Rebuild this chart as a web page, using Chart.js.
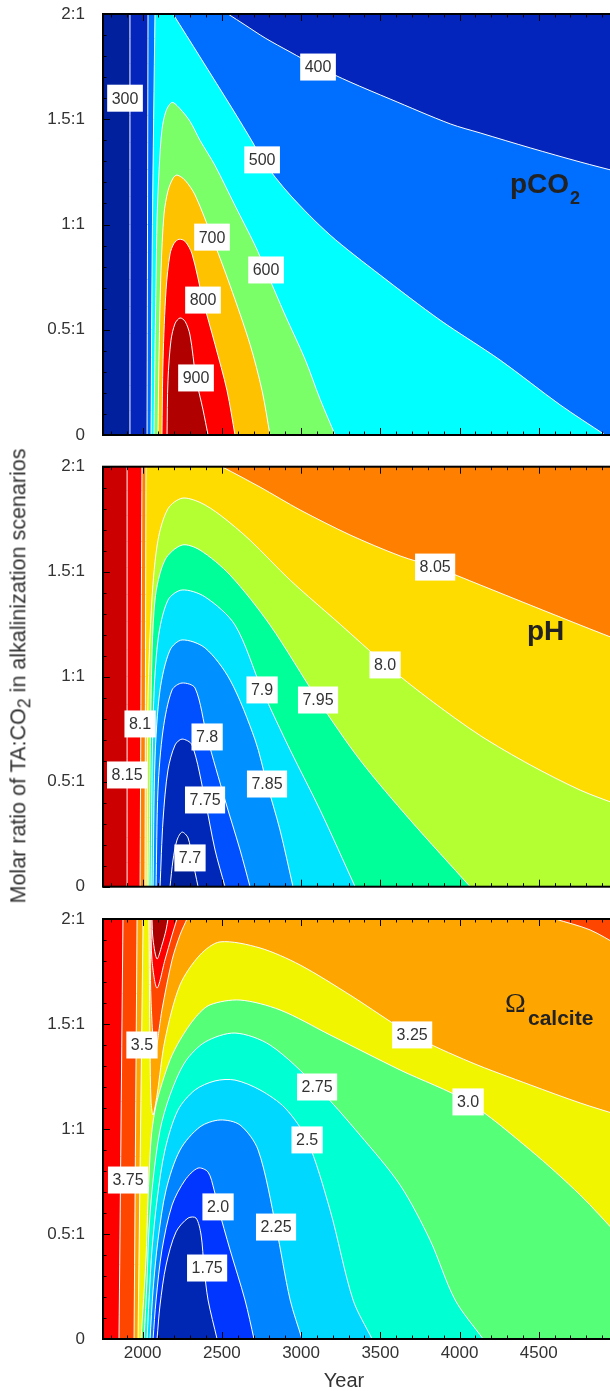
<!DOCTYPE html>
<html lang="en">
<head>
<meta charset="UTF-8">
<title>Alkalinization scenarios: pCO2, pH, Omega calcite</title>
<script src="https://cdn.jsdelivr.net/npm/chart.js"></script>
<style>
  html, body { margin: 0; padding: 0; background: #fff; overflow: hidden; }
  body { width: 610px; height: 1391px; position: relative; font-family: "Liberation Sans", Arial, Helvetica, sans-serif; color: #333; }
  canvas { position: absolute; left: 0; }
  #p1 { top: 0; }
  #p2 { top: 452px; }
  #p3 { top: 905px; }
  #ylab { position: absolute; left: 21px; top: 676px; transform: translate(-50%, -50%) rotate(-90deg); white-space: nowrap; font-size: 21.5px; }
  #xlab { position: absolute; left: 344px; top: 1369px; transform: translateX(-50%); font-size: 20px; }
</style>
</head>
<body>
<canvas id="p1" width="620" height="450"></canvas>
<canvas id="p2" width="620" height="450"></canvas>
<canvas id="p3" width="620" height="486"></canvas>
<div id="ylab">Molar ratio of TA:CO<sub>2</sub> in alkalinization scenarios</div>
<div id="xlab">Year</div>

<script>
const FONT = '"Liberation Sans", Arial, Helvetica, sans-serif';
const xMin = 1750, xMax = 5000, yMin = 0, yMax = 2;
const xTicks = [2000, 2500, 3000, 3500, 4000, 4500];
const yTicks = [0, 0.5, 1, 1.5, 2];
const yTickLabels = ['0', '0.5:1', '1:1', '1.5:1', '2:1'];

// ---- pCO2 (ppm): regions where pCO2 is above each level, [year, ratio]
const pco2Levels = [300, 400, 500, 600, 700, 800, 900];
const pco2Colors = ['#00209e', '#0325bc', '#006eff', '#00ffff', '#7aff68', '#ffc200', '#ff0000', '#b00000'];
const co2Above300 = [[1920,0],[1920,2],[5000,2],[5000,0]];
const co2Above400 = [[2028,0],[2034,2],[2539,2],[2646,1.948],[2773,1.886],[2930,1.82],[3107,1.748],[3309,1.677],[3562,1.596],[3941,1.478],[4130,1.435],[4446,1.364],[4761,1.297],[5000,1.25],[5000,0]];
const co2Above500 = [[2053,0],[2062,1],[2078,2],[2192,2],[2362,1.796],[2571,1.544],[2697,1.387],[2754,1.307],[2931,1.14],[3183,0.95],[3499,0.76],[3877,0.546],[4256,0.356],[4635,0.143],[4919,0]];
const co2Above600 = [[2072,0],[2078,0.40],[2085,0.74],[2091,1.02],[2104,1.26],[2122,1.45],[2148,1.54],[2186,1.58],[2236,1.55],[2299,1.49],[2362,1.40],[2457,1.28],[2583,1.09],[2710,0.90],[2779,0.78],[2899,0.57],[3025,0.36],[3120,0.17],[3215,0]];
const co2Above700 = [[2097,0],[2104,0.40],[2116,0.78],[2135,1.05],[2160,1.16],[2192,1.22],[2217,1.235],[2268,1.21],[2331,1.14],[2438,0.94],[2552,0.71],[2678,0.43],[2754,0.21],[2804,0]];
const co2Above800 = [[2122,0],[2129,0.36],[2148,0.69],[2173,0.86],[2198,0.91],[2230,0.93],[2268,0.92],[2312,0.86],[2381,0.64],[2457,0.43],[2533,0.21],[2583,0]];
const co2Above900 = [[2154,0],[2160,0.26],[2179,0.45],[2205,0.53],[2236,0.556],[2268,0.54],[2299,0.475],[2337,0.27],[2381,0.12],[2413,0]];
const pco2Labels = [[1889,1.60,'300'],[3107,1.748,'400'],[2754,1.307,'500'],[2779,0.784,'600'],[2438,0.94,'700'],[2381,0.641,'800'],[2337,0.271,'900']];

// ---- pH: regions where pH is below each level (highest level first)
const phLevels = [8.15, 8.1, 8.05, 8.0, 7.95, 7.9, 7.85, 7.8, 7.75, 7.7];
const phColors = ['#cc0000', '#ff0000', '#ff8000', '#ffdc00', '#b4ff32', '#00ff99', '#00e4ff', '#0090ff', '#0050ff', '#0028b8', '#001e98'];
const phBelow815 = [[1902,0],[1902,2],[5000,2],[5000,0]];
const phBelow81 = [[1984,0],[1996,2],[5000,2],[5000,0]];
const phBelow805 = [[2015,0],[2021,2],[2501,2],[2741,1.903],[2994,1.794],[3309,1.675],[3625,1.575],[3846,1.522],[4130,1.437],[4446,1.341],[4761,1.246],[5000,1.175],[5000,0]];
const phBelow80 = [[2028,0],[2034,0.89],[2059,1.37],[2097,1.65],[2160,1.80],[2249,1.85],[2362,1.83],[2489,1.77],[2678,1.65],[2931,1.46],[3246,1.25],[3530,1.06],[3814,0.89],[4130,0.72],[4446,0.58],[4761,0.46],[5000,0.39],[5000,0]];
const phBelow795 = [[2040,0],[2053,0.89],[2078,1.365],[2141,1.556],[2249,1.627],[2362,1.603],[2552,1.484],[2804,1.246],[3107,0.889],[3372,0.603],[3688,0.318],[4067,0]];
const phBelow79 = [[2053,0],[2066,0.794],[2097,1.175],[2160,1.365],[2249,1.413],[2394,1.38],[2583,1.246],[2754,0.937],[2931,0.651],[3120,0.365],[3341,0]];
const phBelow785 = [[2066,0],[2078,0.603],[2110,0.937],[2173,1.127],[2249,1.175],[2394,1.137],[2552,0.984],[2710,0.699],[2785,0.489],[2867,0.27],[2949,0]];
const phBelow78 = [[2085,0],[2097,0.46],[2129,0.746],[2186,0.937],[2249,0.97],[2331,0.946],[2407,0.713],[2520,0.413],[2615,0.175],[2678,0]];
const phBelow775 = [[2110,0],[2129,0.318],[2160,0.556],[2205,0.675],[2249,0.703],[2312,0.675],[2394,0.413],[2457,0.175],[2520,0]];
const phBelow77 = [[2173,0],[2192,0.127],[2217,0.222],[2249,0.26],[2287,0.232],[2312,0.137],[2350,0]];
const phLabels = [[1902,0.532,'8.15'],[1984,0.775,'8.1'],[3846,1.522,'8.05'],[3530,1.056,'8.0'],[3107,0.889,'7.95'],[2754,0.937,'7.9'],[2785,0.489,'7.85'],[2407,0.713,'7.8'],[2394,0.413,'7.75'],[2299,0.137,'7.7']];

// ---- Omega calcite: regions where Omega is below each level (highest level first)
const omLevels = [4.0, 3.75, 3.5, 3.25, 3.0, 2.75, 2.5, 2.25, 2.0, 1.75];
const omColors = ['#aa0000', '#ff0000', '#ff4600', '#ffa500', '#f2f500', '#55ff77', '#00ffd2', '#00d8ff', '#0084ff', '#0036ff', '#0026b4'];
const omBelow40 = [[1750,0],[1750,2],[2059,2],[2066,1.90],[2091,1.81],[2122,1.876],[2148,1.948],[2160,2],[5000,2],[5000,0]];
const omBelow375 = [[1851,0],[1876,2],[2053,2],[2059,1.805],[2091,1.671],[2141,1.805],[2186,1.924],[2217,2],[5000,2],[5000,0]];
const omBelow35 = [[1946,0],[1965,2],[2047,2],[2053,1.614],[2078,1.362],[2122,1.567],[2186,1.805],[2236,1.924],[2280,2],[4604,2],[4824,1.948],[5000,1.876],[5000,0]];
const omBelow325 = [[1971,0],[2003,2],[2040,2],[2047,1.376],[2053,1.133],[2066,1.067],[2091,1.162],[2141,1.424],[2236,1.686],[2362,1.829],[2489,1.891],[2741,1.862],[2994,1.781],[3309,1.638],[3701,1.448],[4067,1.319],[4446,1.21],[4761,1.124],[5000,1.067],[5000,0]];
const omBelow30 = [[1990,0],[2021,0.376],[2034,0.662],[2053,0.948],[2078,1.09],[2110,1.186],[2173,1.329],[2236,1.424],[2331,1.529],[2425,1.591],[2615,1.614],[2867,1.567],[3183,1.448],[3625,1.281],[4054,1.129],[4446,0.90],[4761,0.686],[5000,0.495],[5000,0]];
const omBelow275 = [[2009,0],[2028,0.281],[2040,0.519],[2066,0.757],[2110,0.995],[2173,1.162],[2268,1.319],[2394,1.414],[2583,1.457],[2804,1.40],[3101,1.20],[3372,0.971],[3625,0.733],[3814,0.471],[3972,0.186],[4149,0]];
const omBelow25 = [[2028,0],[2047,0.281],[2059,0.424],[2091,0.662],[2141,0.90],[2223,1.09],[2331,1.186],[2457,1.229],[2583,1.233],[2741,1.186],[2899,1.10],[3038,0.948],[3183,0.614],[3328,0.186],[3448,0]];
const omBelow225 = [[2047,0],[2066,0.233],[2097,0.471],[2148,0.71],[2236,0.90],[2362,1.01],[2489,1.043],[2615,1.019],[2729,0.90],[2842,0.533],[2931,0.186],[3006,0]];
const omBelow20 = [[2066,0],[2085,0.186],[2122,0.424],[2186,0.638],[2268,0.757],[2350,0.814],[2413,0.795],[2451,0.71],[2476,0.629],[2552,0.424],[2646,0.186],[2703,0]];
const omBelow175 = [[2091,0],[2110,0.162],[2148,0.352],[2211,0.51],[2287,0.576],[2337,0.576],[2369,0.495],[2388,0.338],[2413,0.186],[2470,0]];
const omLabels = [[1908,0.757,'3.75'],[1996,1.40,'3.5'],[3701,1.448,'3.25'],[4054,1.129,'3.0'],[3101,1.2,'2.75'],[3038,0.948,'2.5'],[2842,0.533,'2.25'],[2476,0.629,'2.0'],[2407,0.338,'1.75']];

const eps = 1e-6;
function isEdge(p) {
  return p[0] <= xMin + eps || p[0] >= xMax - eps || p[1] <= yMin + eps || p[1] >= yMax - eps;
}
function onFrame(a, b) {
  return (a[0] <= xMin + eps && b[0] <= xMin + eps) || (a[0] >= xMax - eps && b[0] >= xMax - eps) ||
         (a[1] <= yMin + eps && b[1] <= yMin + eps) || (a[1] >= yMax - eps && b[1] >= yMax - eps);
}
// points on the frame are doubled so the smoothed curve keeps a sharp corner there
function expand(pts) {
  const out = [];
  pts.forEach(p => { out.push(p); if (isEdge(p)) out.push(p); });
  return out;
}

const panelInfo = {};

const decor = {
  id: 'decor',
  afterDatasetsDraw(chart) {
    const info = panelInfo[chart.canvas.id];
    const {ctx, chartArea: a, scales: {x, y}} = chart;
    ctx.save();
    // inward tick marks
    ctx.strokeStyle = '#000';
    ctx.lineWidth = 1;
    ctx.beginPath();
    for (let v = 1800; v <= xMax; v += 100) {
      const px = Math.round(x.getPixelForValue(v)) + 0.5;
      const len = v % 500 === 0 ? 7 : 3.5;
      ctx.moveTo(px, a.bottom); ctx.lineTo(px, a.bottom - len);
      ctx.moveTo(px, a.top); ctx.lineTo(px, a.top + len);
    }
    for (let k = 0; k <= 20; k++) {
      const py = Math.round(y.getPixelForValue(k / 10)) + 0.5;
      const len = k % 5 === 0 ? 7 : 3.5;
      ctx.moveTo(a.left, py); ctx.lineTo(a.left + len, py);
      ctx.moveTo(a.right, py); ctx.lineTo(a.right - len, py);
    }
    ctx.stroke();
    ctx.lineWidth = 2;
    ctx.strokeRect(a.left, a.top, a.width, a.height);

    // contour labels
    ctx.font = '16px ' + FONT;
    ctx.textAlign = 'center';
    ctx.textBaseline = 'middle';
    info.labels.forEach(([lx, ly, t]) => {
      const px = x.getPixelForValue(lx), py = y.getPixelForValue(ly);
      const w = ctx.measureText(t).width + 9, h = 27;
      ctx.fillStyle = '#fff';
      ctx.fillRect(px - w / 2, py - h / 2, w, h);
      ctx.fillStyle = '#333';
      ctx.fillText(t, px, py + 1);
    });

    info.title(ctx, a);
    ctx.restore();
  }
};

function titlePco2(ctx, a) {
  ctx.fillStyle = '#222';
  ctx.textAlign = 'left';
  ctx.textBaseline = 'alphabetic';
  ctx.font = 'bold 28px ' + FONT;
  ctx.fillText('pCO', 510, a.top + 179);
  const w = ctx.measureText('pCO').width;
  ctx.font = 'bold 18px ' + FONT;
  ctx.fillText('2', 510 + w + 1, a.top + 190);
}
function titlePh(ctx, a) {
  ctx.fillStyle = '#222';
  ctx.textAlign = 'left';
  ctx.textBaseline = 'alphabetic';
  ctx.font = 'bold 28px ' + FONT;
  ctx.fillText('pH', 527, a.top + 173);
}
function titleOmega(ctx, a) {
  ctx.fillStyle = '#222';
  ctx.textAlign = 'left';
  ctx.textBaseline = 'alphabetic';
  ctx.font = '28px "Liberation Serif", "DejaVu Serif", serif';
  ctx.fillText('\u03A9', 505, a.top + 93);
  ctx.font = 'bold 21px ' + FONT;
  ctx.fillText('calcite', 528, a.top + 106);
}

function makePanel(id, regions, colors, labels, title, padding, showX) {
  panelInfo[id] = {labels, title};
  const frame = [[xMin, yMin], [xMin, yMax], [xMax, yMax], [xMax, yMin]];
  const all = [frame].concat(regions);
  const datasets = [];
  all.forEach((raw, i) => {
    const pts = expand(raw);
    const data = pts.map(p => ({x: p[0], y: p[1]}));
    datasets.push({
      data, showLine: true, fill: 'shape', backgroundColor: colors[i],
      borderWidth: 0, pointRadius: 0, tension: 0.3, order: 100 - i
    });
    if (i > 0) {
      datasets.push({
        data, showLine: true, fill: false, borderColor: '#fff', borderWidth: 1,
        pointRadius: 0, tension: 0.3, order: 1,
        segment: {borderColor: c => onFrame(pts[c.p0DataIndex], pts[c.p1DataIndex]) ? 'rgba(0,0,0,0)' : '#fff'}
      });
    }
  });

  return new Chart(document.getElementById(id), {
    type: 'line',
    data: {datasets},
    plugins: [decor],
    options: {
      responsive: false,
      animation: false,
      events: [],
      layout: {padding},
      plugins: {legend: {display: false}, tooltip: {enabled: false}},
      scales: {
        x: {
          type: 'linear', min: xMin, max: xMax, display: showX,
          grid: {display: false}, border: {display: false},
          afterBuildTicks: s => { s.ticks = xTicks.map(v => ({value: v})); },
          afterFit: s => { if (showX) s.height = 52; s.paddingLeft = 0; s.paddingRight = 0; },
          ticks: {color: '#333', font: {size: 17, family: FONT}, padding: -4, maxRotation: 0, autoSkip: false, callback: v => String(v)}
        },
        y: {
          type: 'linear', min: yMin, max: yMax,
          grid: {display: false}, border: {display: false},
          afterBuildTicks: s => { s.ticks = yTicks.map(v => ({value: v})); },
          afterFit: s => { s.width = 103; s.paddingTop = 0; s.paddingBottom = 0; },
          ticks: {color: '#333', font: {size: 17, family: FONT}, padding: 10, callback: (v, i) => yTickLabels[i]}
        }
      }
    }
  });
}

makePanel('p1',
  [co2Above300, co2Above400, co2Above500, co2Above600, co2Above700, co2Above800, co2Above900],
  pco2Colors, pco2Labels, titlePco2, {top: 14, bottom: 15, right: 2, left: 0}, false);

makePanel('p2',
  [phBelow815, phBelow81, phBelow805, phBelow80, phBelow795, phBelow79, phBelow785, phBelow78, phBelow775, phBelow77],
  phColors, phLabels, titlePh, {top: 14.7, bottom: 15.3, right: 2, left: 0}, false);

makePanel('p3',
  [omBelow40, omBelow375, omBelow35, omBelow325, omBelow30, omBelow275, omBelow25, omBelow225, omBelow20, omBelow175],
  omColors, omLabels, titleOmega, {top: 14, bottom: 0, right: 2, left: 0}, true);
</script>
</body>
</html>
